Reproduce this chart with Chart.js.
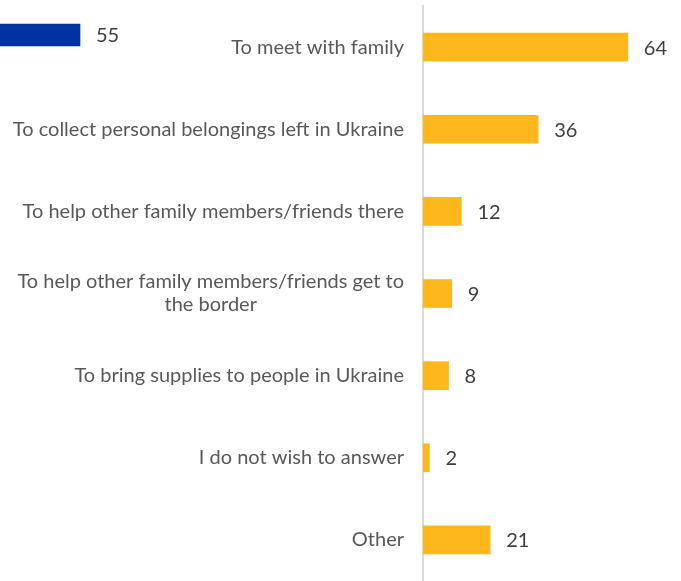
<!DOCTYPE html>
<html>
<head>
<meta charset="utf-8">
<script src="https://cdn.jsdelivr.net/npm/chart.js@4/dist/chart.umd.min.js"></script>
<style>
  html, body { margin: 0; padding: 0; background: #ffffff; overflow: hidden; }
  #wrap { position: relative; width: 681px; height: 581px; }
  #main { position: absolute; left: 0; top: 0; }
  #side { position: absolute; left: -96px; top: 0; z-index: 2; }
</style>
</head>
<body>
<div id="wrap">
  <canvas id="main" width="681" height="581"></canvas>
  <canvas id="side" width="300" height="70"></canvas>
</div>
<script>
// Reasons for travelling back (percent of respondents)
const categories = [
  "To meet with family",
  "To collect personal belongings left in Ukraine",
  "To help other family members/friends there",
  ["To help other family members/friends get to", "the border"],
  "To bring supplies to people in Ukraine",
  "I do not wish to answer",
  "Other"
];
const values = [64, 36, 12, 9, 8, 2, 21];

// Neighbouring panel, partly visible at the left edge
const sideCategories = ["Total"];
const sideValues = [55];

const ORANGE = "#FFB81C";
const BLUE = "#0033A0";
const LABEL_GREY = "#595959";
const VALUE_GREY = "#404040";
const FONT = "Lato, 'Open Sans', sans-serif";

// Writes each bar's value just past its end
const valueLabels = {
  id: "valueLabels",
  afterDatasetsDraw(chart) {
    const ctx = chart.ctx;
    const meta = chart.getDatasetMeta(0);
    const data = chart.data.datasets[0].data;
    ctx.save();
    ctx.font = "20px " + FONT;
    ctx.fillStyle = VALUE_GREY;
    ctx.textAlign = "left";
    ctx.textBaseline = "middle";
    meta.data.forEach((bar, i) => {
      ctx.fillText(String(data[i]), bar.x + 16, bar.y + 1);
    });
    ctx.restore();
  }
};

// Category names to the left of the axis; wrapped names are centred on their widest line
const categoryLabels = {
  id: "categoryLabels",
  afterDraw(chart) {
    const ctx = chart.ctx;
    const yScale = chart.scales.y;
    const right = chart.chartArea.left - 19;
    const lineH = 23;
    ctx.save();
    ctx.font = "20px " + FONT;
    ctx.fillStyle = LABEL_GREY;
    ctx.textAlign = "center";
    ctx.textBaseline = "middle";
    chart.data.labels.forEach((lab, i) => {
      const lines = Array.isArray(lab) ? lab : [lab];
      const w = Math.max(...lines.map(l => ctx.measureText(l).width));
      const cx = right - w / 2;
      const cy = yScale.getPixelForValue(i);
      const y0 = cy - (lines.length - 1) * lineH / 2;
      lines.forEach((l, k) => ctx.fillText(l, cx, y0 + k * lineH));
    });
    ctx.restore();
  }
};

new Chart(document.getElementById("main"), {
  type: "bar",
  data: {
    labels: categories,
    datasets: [{
      data: values,
      backgroundColor: ORANGE,
      borderWidth: 0,
      barThickness: 28
    }]
  },
  options: {
    indexAxis: "y",
    responsive: false,
    animation: false,
    layout: { padding: { top: 6, right: 2, bottom: 0, left: 0 } },
    plugins: { legend: { display: false }, tooltip: { enabled: false } },
    scales: {
      x: { display: false, min: 0, max: 80 },
      y: {
        ticks: { display: false },
        grid: { display: false, drawTicks: false },
        border: { display: true, color: "#d9d9d9", width: 2 },
        afterFit(scale) { scale.width = 423; }
      }
    }
  },
  plugins: [valueLabels, categoryLabels]
});

new Chart(document.getElementById("side"), {
  type: "bar",
  data: {
    labels: sideCategories,
    datasets: [{
      data: sideValues,
      backgroundColor: BLUE,
      borderWidth: 0,
      barThickness: 22
    }]
  },
  options: {
    indexAxis: "y",
    responsive: false,
    animation: false,
    layout: { padding: { top: 0, right: 44, bottom: 0, left: 0 } },
    plugins: { legend: { display: false }, tooltip: { enabled: false } },
    scales: {
      x: { display: false, min: 0, max: 80 },
      y: { display: false }
    }
  },
  plugins: [valueLabels]
});
</script>
</body>
</html>
